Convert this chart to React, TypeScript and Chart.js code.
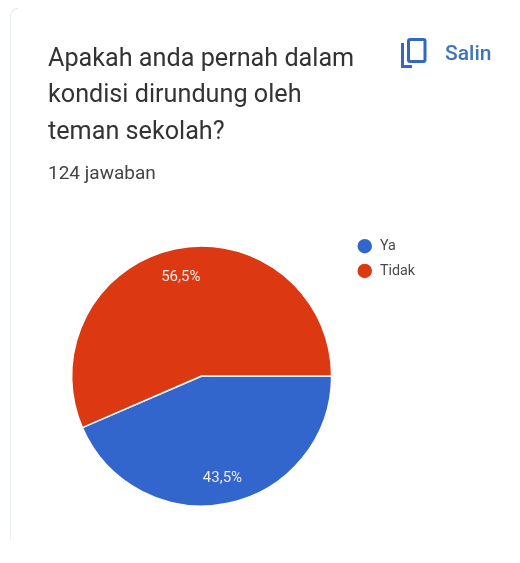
import React, { useEffect, useRef } from "react";
import { Chart, registerables } from "chart.js";

Chart.register(...registerables);

const categories = ["Ya", "Tidak"];
const shares = [43.5, 56.5];
const colors = ["#3366cc", "#dc3912"];
const titleLines = ["Apakah anda pernah dalam", "kondisi dirundung oleh", "teman sekolah?"];
const responseCount = "124 jawaban";
const copyLabel = "Salin";

const sliceLabels = {
  id: "sliceLabels",
  afterDatasetsDraw(chart: any) {
    const { ctx } = chart;
    const meta = chart.getDatasetMeta(0);
    ctx.save();
    ctx.font = "15px Roboto";
    ctx.fillStyle = "#f1e9e6";
    ctx.textAlign = "center";
    ctx.textBaseline = "middle";
    meta.data.forEach((arc: any, i: number) => {
      const { x, y, startAngle, endAngle, outerRadius } = arc.getProps(
        ["x", "y", "startAngle", "endAngle", "outerRadius"],
        true
      );
      const mid = (startAngle + endAngle) / 2;
      const r = outerRadius * 0.79;
      ctx.fillText(
        shares[i].toFixed(1).replace(".", ",") + "%",
        x + Math.cos(mid) * r,
        y + Math.sin(mid) * r + 2
      );
    });
    ctx.restore();
  },
};

export default function App() {
  const ref = useRef<HTMLCanvasElement>(null);
  useEffect(() => {
    const chart = new Chart(ref.current as HTMLCanvasElement, {
      type: "pie",
      data: {
        labels: categories,
        datasets: [
          {
            data: shares,
            backgroundColor: colors,
            borderColor: "#ffffff",
            borderWidth: 1.5,
            radius: 130,
          } as any,
        ],
      },
      options: {
        responsive: false,
        animation: false,
        rotation: 90,
        layout: { padding: { top: 228.5, bottom: 39.5, left: 57 } },
        plugins: {
          tooltip: { enabled: false },
          legend: {
            position: "right",
            align: "start",
            labels: {
              usePointStyle: true,
              pointStyle: "circle",
              pointStyleWidth: 16,
              boxHeight: 11.3,
              padding: 10.5,
              color: "#4a4a4a",
              font: { family: "Roboto", size: 14.3 },
            },
          },
        },
      },
      plugins: [sliceLabels],
    } as any);
    return () => chart.destroy();
  }, []);

  return (
    <div
      style={{
        position: "absolute",
        left: 0,
        top: 0,
        width: 520,
        height: 563,
        background: "#fff",
        overflow: "hidden",
        fontFamily: "Roboto",
      }}
    >
      <div
        style={{
          position: "absolute",
          left: 10,
          top: 8,
          width: 8,
          height: 532,
          borderLeft: "1.5px solid #e6edf3",
          borderTop: "1.5px solid #dbe8f3",
          borderTopLeftRadius: 8,
          boxSizing: "border-box",
        }}
      />
      <canvas ref={ref} width={425} height={563} style={{ position: "absolute", left: 0, top: 0 }} />
      <div
        style={{
          position: "absolute",
          left: 48,
          top: 39.5,
          fontSize: 25.2,
          lineHeight: "36.5px",
          color: "#333333",
          whiteSpace: "nowrap",
        }}
      >
        {titleLines.map((line) => (
          <div key={line}>{line}</div>
        ))}
      </div>
      <div style={{ position: "absolute", left: 48, top: 162, fontSize: 19, lineHeight: "22px", color: "#444444" }}>
        {responseCount}
      </div>
      <svg
        style={{ position: "absolute", left: 400, top: 38 }}
        width={28}
        height={31}
        viewBox="0 0 28 31"
        fill="none"
        stroke="#3367c4"
        strokeWidth={3}
      >
        <path d="M2.5 5 V28.5 H12" />
        <rect x="8.5" y="1.5" width="16.5" height="22" rx="1.5" />
      </svg>
      <div
        style={{
          position: "absolute",
          left: 445,
          top: 41,
          fontSize: 21,
          lineHeight: "24px",
          fontWeight: 500,
          color: "#3f74b8",
        }}
      >
        {copyLabel}
      </div>
    </div>
  );
}
